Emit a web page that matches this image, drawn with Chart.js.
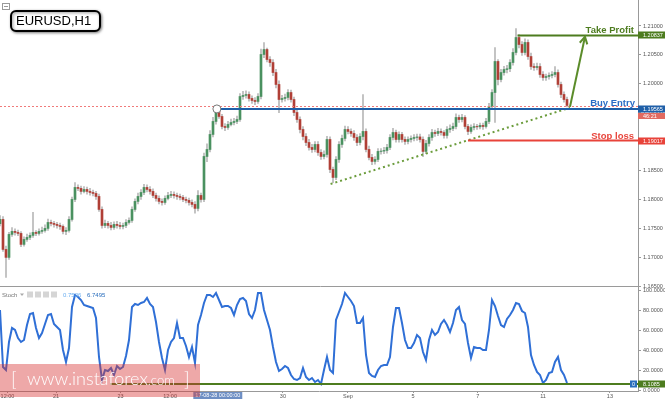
<!DOCTYPE html>
<html><head><meta charset="utf-8">
<script src="https://cdn.jsdelivr.net/npm/chart.js@4.4.1/dist/chart.umd.min.js"></script>
<style>
html,body{margin:0;padding:0;background:#fff;width:665px;height:399px;overflow:hidden;}
#pc{position:absolute;left:0;top:0;}
#sc{position:absolute;left:0;top:280px;}
</style></head><body>
<canvas id="pc" width="665" height="295"></canvas>
<canvas id="sc" width="665" height="119"></canvas>
<script>
// ---------- DATA ----------
const opens = [
1.17580,1.17652,1.17133,1.16995,1.17393,1.17445,1.17427,1.17410,1.17220,1.17306,
1.17341,1.17375,1.17427,1.17410,1.17445,1.17462,1.17497,1.17600,1.17583,1.17566,
1.17548,1.17531,1.17445,1.17462,1.17652,1.17998,1.18206,1.18189,1.18137,1.18171,
1.18137,1.18119,1.18102,1.18050,1.17825,1.17548,1.17583,1.17548,1.17514,1.17566,
1.17548,1.17531,1.17548,1.17600,1.17635,1.17825,1.17964,1.18050,1.18119,1.18206,
1.18171,1.18137,1.18067,1.18016,1.17964,1.17946,1.18016,1.18067,1.18085,1.18067,
1.18050,1.18033,1.17998,1.17981,1.17946,1.17912,1.17843,1.18067,1.17998,1.18742,
1.18863,1.19123,1.19348,1.19555,1.19434,1.19261,1.19244,1.19296,1.19330,1.19348,
1.19382,1.19780,1.19798,1.19815,1.19746,1.19711,1.19694,1.19780,1.20507,1.20593,
1.20420,1.20368,1.20195,1.19988,1.19728,1.19746,1.19763,1.19849,1.19728,1.19503,
1.19382,1.19209,1.19088,1.18984,1.18898,1.18863,1.18950,1.18811,1.18742,1.18777,
1.19036,1.18517,1.18379,1.18690,1.18950,1.19054,1.19209,1.19175,1.19140,1.19071,
1.18984,1.19088,1.19175,1.18863,1.18725,1.18656,1.18690,1.18829,1.18835,1.18846,
1.18898,1.19071,1.19157,1.19036,1.19123,1.19036,1.19002,1.19036,1.19054,1.19071,
1.19080,1.19036,1.18829,1.18967,1.19071,1.19157,1.19140,1.19175,1.19157,1.19106,
1.19209,1.19227,1.19261,1.19417,1.19382,1.19417,1.19261,1.19175,1.19244,1.19261,
1.19255,1.19279,1.19261,1.19348,1.19607,1.19849,1.20386,1.20074,1.20195,1.20247,
1.20260,1.20368,1.20542,1.20801,1.20680,1.20542,1.20715,1.20472,1.20299,1.20282,
1.20299,1.20161,1.20109,1.20126,1.20144,1.20161,1.20195,1.19988,1.19815,1.19728];
const highs = [
1.17720,1.17700,1.17190,1.17430,1.17510,1.17490,1.17470,1.17440,1.17350,1.17400,
1.17420,1.17773,1.17460,1.17490,1.17520,1.17560,1.17660,1.17640,1.17620,1.17600,
1.17590,1.17560,1.17510,1.17700,1.18040,1.18290,1.18250,1.18230,1.18220,1.18210,
1.18190,1.18160,1.18140,1.18090,1.17870,1.17640,1.17620,1.17600,1.17610,1.17620,
1.17600,1.17590,1.17650,1.17680,1.17870,1.18010,1.18110,1.18170,1.18260,1.18250,
1.18220,1.18180,1.18110,1.18060,1.18010,1.18060,1.18120,1.18140,1.18130,1.18110,
1.18090,1.18070,1.18040,1.18020,1.17990,1.17960,1.18150,1.18110,1.18800,1.18960,
1.19190,1.19420,1.19600,1.19590,1.19470,1.19310,1.19350,1.19390,1.19400,1.19440,
1.19830,1.19870,1.19880,1.19860,1.19790,1.19760,1.19830,1.20600,1.20715,1.20620,
1.20470,1.20420,1.20250,1.20050,1.19800,1.19820,1.19900,1.19890,1.19770,1.19550,
1.19430,1.19260,1.19140,1.19040,1.18950,1.19000,1.19000,1.18860,1.18840,1.19090,
1.19080,1.18560,1.18740,1.19000,1.19110,1.19270,1.19260,1.19220,1.19190,1.19120,
1.19140,1.19815,1.19220,1.18920,1.18780,1.18740,1.18880,1.18880,1.18900,1.18950,
1.19120,1.19230,1.19200,1.19170,1.19160,1.19080,1.19080,1.19100,1.19120,1.19130,
1.19130,1.19080,1.19020,1.19120,1.19210,1.19200,1.19230,1.19220,1.19190,1.19260,
1.19290,1.19320,1.19480,1.19460,1.19470,1.19450,1.19300,1.19290,1.19310,1.19300,
1.19320,1.19320,1.19400,1.19660,1.19900,1.20628,1.20420,1.20250,1.20300,1.20320,
1.20420,1.20610,1.20957,1.20850,1.20730,1.20780,1.20760,1.20530,1.20350,1.20360,
1.20350,1.20210,1.20170,1.20190,1.20210,1.20299,1.20240,1.20030,1.19860,1.19770];
const lows = [
1.17540,1.17100,1.16649,1.16960,1.17360,1.17380,1.17370,1.17180,1.17190,1.17270,
1.17300,1.17340,1.17370,1.17380,1.17410,1.17430,1.17460,1.17540,1.17520,1.17500,
1.17480,1.17400,1.17390,1.17430,1.17620,1.17960,1.18150,1.18090,1.18110,1.18090,
1.18070,1.18060,1.18000,1.17790,1.17500,1.17510,1.17500,1.17470,1.17480,1.17500,
1.17490,1.17490,1.17510,1.17570,1.17600,1.17790,1.17920,1.18000,1.18080,1.18130,
1.18090,1.18030,1.17970,1.17920,1.17900,1.17910,1.17990,1.18030,1.18020,1.18000,
1.17990,1.17960,1.17940,1.17900,1.17870,1.17760,1.17800,1.17950,1.17960,1.18650,
1.18820,1.19080,1.19300,1.19400,1.19220,1.19190,1.19210,1.19270,1.19290,1.19310,
1.19350,1.19730,1.19750,1.19700,1.19660,1.19640,1.19660,1.19740,1.20450,1.20380,
1.20300,1.20140,1.19930,1.19500,1.19680,1.19700,1.19720,1.19680,1.19450,1.19330,
1.19150,1.19030,1.18930,1.18850,1.18810,1.18820,1.18760,1.18690,1.18700,1.18730,
1.18460,1.18290,1.18340,1.18640,1.18900,1.19010,1.19130,1.19090,1.19020,1.18930,
1.18940,1.19030,1.18820,1.18680,1.18600,1.18610,1.18650,1.18780,1.18790,1.18800,
1.18860,1.19030,1.18990,1.18990,1.18990,1.18950,1.18960,1.18990,1.19010,1.19020,
1.18990,1.18740,1.18790,1.18920,1.19020,1.19090,1.19100,1.19110,1.19060,1.19060,
1.19160,1.19190,1.19220,1.19330,1.19340,1.19220,1.19120,1.19140,1.19200,1.19210,
1.19220,1.19210,1.19230,1.19310,1.19570,1.19330,1.19980,1.20030,1.20150,1.20190,
1.20210,1.20320,1.20500,1.20620,1.20490,1.20500,1.20420,1.20250,1.20230,1.20240,
1.20110,1.20060,1.20060,1.20080,1.20100,1.20120,1.19940,1.19760,1.19680,1.19600];
const closes = [
1.17652,1.17133,1.16995,1.17393,1.17445,1.17427,1.17410,1.17220,1.17306,1.17341,
1.17375,1.17427,1.17410,1.17445,1.17462,1.17497,1.17600,1.17583,1.17566,1.17548,
1.17531,1.17445,1.17462,1.17652,1.17998,1.18206,1.18189,1.18137,1.18171,1.18137,
1.18119,1.18102,1.18050,1.17825,1.17548,1.17583,1.17548,1.17514,1.17566,1.17548,
1.17531,1.17548,1.17600,1.17635,1.17825,1.17964,1.18050,1.18119,1.18206,1.18171,
1.18137,1.18067,1.18016,1.17964,1.17946,1.18016,1.18067,1.18085,1.18067,1.18050,
1.18033,1.17998,1.17981,1.17946,1.17912,1.17843,1.18067,1.17998,1.18742,1.18863,
1.19123,1.19348,1.19555,1.19434,1.19261,1.19244,1.19296,1.19330,1.19348,1.19382,
1.19780,1.19798,1.19815,1.19746,1.19711,1.19694,1.19780,1.20507,1.20593,1.20420,
1.20368,1.20195,1.19988,1.19728,1.19746,1.19763,1.19849,1.19728,1.19503,1.19382,
1.19209,1.19088,1.18984,1.18898,1.18863,1.18950,1.18811,1.18742,1.18777,1.19036,
1.18517,1.18379,1.18690,1.18950,1.19054,1.19209,1.19175,1.19140,1.19071,1.18984,
1.19088,1.19175,1.18863,1.18725,1.18656,1.18690,1.18829,1.18835,1.18846,1.18898,
1.19071,1.19157,1.19036,1.19123,1.19036,1.19002,1.19036,1.19054,1.19071,1.19080,
1.19036,1.18829,1.18967,1.19071,1.19157,1.19140,1.19175,1.19157,1.19106,1.19209,
1.19227,1.19261,1.19417,1.19382,1.19417,1.19261,1.19175,1.19244,1.19261,1.19255,
1.19279,1.19261,1.19348,1.19607,1.19849,1.20386,1.20074,1.20195,1.20247,1.20260,
1.20368,1.20542,1.20801,1.20680,1.20542,1.20715,1.20472,1.20299,1.20282,1.20299,
1.20161,1.20109,1.20126,1.20144,1.20161,1.20195,1.19988,1.19815,1.19728,1.19625];
const stochValues = [
80,23,20,48,62,60,52,48,50,65,
76,77,62,52,57,66,75,76,66,63,
60,40,28,42,83,95,93,90,85,84,
83,82,72,33,10,20,19,22,15,24,
21,23,34,50,83,86,85,87,88,92,
86,83,68,48,32,20,40,48,52,67,
52,52,44,33,43,27,65,75,87,95,
95,93,97,90,83,84,84,82,75,85,
91,92,89,76,72,80,97,97,80,70,
60,43,28,19,21,24,22,15,11,10,
12,22,13,10,12,8,10,6,20,33,
20,17,70,78,86,97,93,89,84,67,
67,72,35,17,14,13,20,24,25,25,
33,63,82,82,67,50,42,42,47,55,
52,38,30,50,60,55,58,66,70,65,
58,67,80,83,70,66,47,32,43,42,
42,40,40,60,90,84,74,65,63,71,
75,80,87,86,79,77,63,35,25,18,
15,7,10,17,18,28,33,20,15,7];
const xTickPos = [2.5,18.7,40.2,56.7,94.3,116,137.7,159.3,181,203.3];
const xTickLabels = ['12:00','21','23','12:00','30','Sep','5','7','11','13'];
const priceTicks = [1.165,1.17,1.175,1.18,1.185,1.19,1.195,1.2,1.205,1.21];
const stochTicks = [0,20,40,60,80,100];
const takeProfit = 1.20837, buyEntry = 1.19565, stopLoss = 1.19017, bidPrice = 1.19620;
const tpStartIdx = 172.5, entryStartIdx = 72.3, slStartIdx = 156;
const trendLine = [[110.2,1.18265],[190,1.19586]];
const arrowLine = [[190,1.19603],[195,1.20815]];
const stochLevel = 6, stochLevelStartIdx = 36.7, stochCurrent = '8.1085';
const crossIdx = 72.6, crossLabel = '17-08-28 00:00:00';
const countdown = '46:21';
const XMAX = 212.67;

// ---------- STYLE ----------
const UP = '#4a9160', DN = '#b03f36', WICK = '#b8b8b8';
const FONT = "'Liberation Sans', Arial, sans-serif";

function rbox(ctx, x, y, w, h, bg, txt){
  ctx.fillStyle = bg; ctx.fillRect(x, y, w, h);
  ctx.fillStyle = '#fff'; ctx.font = '5.5px ' + FONT; ctx.textBaseline = 'middle'; ctx.textAlign = 'left';
  ctx.fillText(txt, x + 5, y + h/2 + 0.5);
}

const priceAnnot = {
  id: 'priceAnnot',
  afterDraw(chart){
    const {ctx, scales:{x, y}, chartArea: ca} = chart;
    ctx.save();
    ctx.strokeStyle = '#9a9a9a'; ctx.lineWidth = 1;
    ctx.beginPath(); ctx.moveTo(0, ca.bottom + 0.5); ctx.lineTo(641, ca.bottom + 0.5); ctx.stroke();
    ctx.strokeStyle = '#f07a7a'; ctx.setLineDash([2,2]); ctx.lineWidth = 1;
    let yb = Math.round(y.getPixelForValue(bidPrice)) + 0.5;
    ctx.beginPath(); ctx.moveTo(0, yb); ctx.lineTo(ca.right, yb); ctx.stroke();
    ctx.setLineDash([]);
    ctx.strokeStyle = '#6b9c3c'; ctx.lineWidth = 2; ctx.setLineDash([2,3]);
    ctx.beginPath();
    ctx.moveTo(x.getPixelForValue(trendLine[0][0]), y.getPixelForValue(trendLine[0][1]));
    ctx.lineTo(x.getPixelForValue(trendLine[1][0]), y.getPixelForValue(trendLine[1][1]));
    ctx.stroke(); ctx.setLineDash([]);
    let yt = y.getPixelForValue(takeProfit);
    ctx.strokeStyle = '#4d7c1f'; ctx.lineWidth = 2;
    ctx.beginPath(); ctx.moveTo(x.getPixelForValue(tpStartIdx), yt); ctx.lineTo(ca.right, yt); ctx.stroke();
    let ye = y.getPixelForValue(buyEntry);
    ctx.strokeStyle = '#1f5fa8';
    ctx.beginPath(); ctx.moveTo(x.getPixelForValue(entryStartIdx), ye); ctx.lineTo(ca.right, ye); ctx.stroke();
    let ys = y.getPixelForValue(stopLoss);
    ctx.strokeStyle = '#e8433a';
    ctx.beginPath(); ctx.moveTo(x.getPixelForValue(slStartIdx), ys); ctx.lineTo(ca.right, ys); ctx.stroke();
    ctx.fillStyle = '#fff'; ctx.strokeStyle = '#777'; ctx.lineWidth = 1;
    ctx.beginPath(); ctx.arc(x.getPixelForValue(entryStartIdx), ye, 4, 0, Math.PI*2); ctx.fill(); ctx.stroke();
    const ax0 = x.getPixelForValue(arrowLine[0][0]), ay0 = y.getPixelForValue(arrowLine[0][1]);
    const ax1 = x.getPixelForValue(arrowLine[1][0]), ay1 = y.getPixelForValue(arrowLine[1][1]);
    ctx.strokeStyle = '#5b8c2a'; ctx.lineWidth = 2;
    ctx.beginPath(); ctx.moveTo(ax0, ay0); ctx.lineTo(ax1, ay1); ctx.stroke();
    const ang = Math.atan2(ay1 - ay0, ax1 - ax0);
    ctx.beginPath();
    ctx.moveTo(ax1 - 8*Math.cos(ang - 0.5), ay1 - 8*Math.sin(ang - 0.5));
    ctx.lineTo(ax1, ay1);
    ctx.lineTo(ax1 - 8*Math.cos(ang + 0.5), ay1 - 8*Math.sin(ang + 0.5));
    ctx.stroke();
    ctx.font = 'bold 9.5px ' + FONT; ctx.textAlign = 'right'; ctx.textBaseline = 'alphabetic';
    ctx.fillStyle = '#4d7c1f'; ctx.fillText('Take Profit', 634, yt - 2);
    ctx.fillStyle = '#2b6cc4'; ctx.fillText('Buy Entry', 635, ye - 3);
    ctx.fillStyle = '#e8453c'; ctx.fillText('Stop loss', 634, ys - 2);
    rbox(ctx, 638, Math.round(yt) - 3.5, 27, 7, '#4d7c1f', takeProfit.toFixed(5));
    rbox(ctx, 638, Math.round(ye) - 3.5, 27, 7, '#1f5fa8', buyEntry.toFixed(5));
    rbox(ctx, 638, Math.round(ye) + 4, 27, 6, '#e26a60', countdown);
    rbox(ctx, 638, Math.round(ys) - 3.5, 27, 7, '#e8433a', stopLoss.toFixed(5));
    ctx.save();
    ctx.shadowColor = 'rgba(0,0,0,0.45)'; ctx.shadowBlur = 3; ctx.shadowOffsetX = 1; ctx.shadowOffsetY = 1;
    ctx.fillStyle = '#fff'; ctx.strokeStyle = '#000'; ctx.lineWidth = 2;
    ctx.beginPath(); ctx.roundRect(11, 11, 89, 20, 5); ctx.fill(); ctx.stroke();
    ctx.restore();
    ctx.fillStyle = '#000'; ctx.font = '13px ' + FONT; ctx.textAlign = 'left'; ctx.textBaseline = 'middle';
    ctx.fillText('EURUSD,H1', 16, 21.5);
    ctx.strokeStyle = '#999'; ctx.lineWidth = 1;
    ctx.strokeRect(2.5, 3.5, 7, 6);
    ctx.beginPath(); ctx.moveTo(4, 6.5); ctx.lineTo(8, 6.5); ctx.stroke();
    ctx.restore();
  }
};

const stochAnnot = {
  id: 'stochAnnot',
  afterDraw(chart){
    const {ctx, scales:{x, y}, chartArea: ca} = chart;
    const OFF = 280;
    ctx.save();
    const yl = y.getPixelForValue(stochLevel);
    ctx.strokeStyle = '#4d7c1f'; ctx.lineWidth = 2;
    ctx.beginPath(); ctx.moveTo(x.getPixelForValue(stochLevelStartIdx), yl); ctx.lineTo(ca.right, yl); ctx.stroke();
    ctx.fillStyle = '#2a6ebd'; ctx.fillRect(630, yl - 3.5, 7, 7);
    ctx.fillStyle = '#fff'; ctx.font = '5.5px ' + FONT; ctx.textAlign = 'center'; ctx.textBaseline = 'middle';
    ctx.fillText('0', 633.5, yl + 0.5);
    rbox(ctx, 638, yl - 3.5, 27, 7, '#4d7c1f', stochCurrent);
    ctx.font = '6px ' + FONT; ctx.textAlign = 'left'; ctx.textBaseline = 'middle';
    ctx.fillStyle = '#777'; ctx.fillText('Stoch', 2, 295 - OFF);
    ctx.fillStyle = '#aaa'; ctx.beginPath(); ctx.moveTo(20, 293.5-OFF); ctx.lineTo(22, 296-OFF); ctx.lineTo(24, 293.5-OFF); ctx.fill();
    ctx.fillStyle = '#d5d5d5';
    for (let k = 0; k < 4; k++) ctx.fillRect(27 + k*8, 291.5 - OFF, 6, 6);
    ctx.fillStyle = '#6aaef0'; ctx.fillText('0.7526', 63, 295 - OFF);
    ctx.fillStyle = '#2a6ebd'; ctx.fillText('6.7495', 87, 295 - OFF);
    const cx = x.getPixelForValue(crossIdx);
    ctx.font = '5.5px ' + FONT;
    const tw = ctx.measureText(crossLabel).width + 4;
    ctx.fillStyle = '#6e8fc4'; ctx.fillRect(cx - tw/2, 392 - OFF, tw, 7);
    ctx.fillStyle = '#fff'; ctx.textAlign = 'center'; ctx.fillText(crossLabel, cx, 395.8 - OFF);
    ctx.fillStyle = 'rgba(214,48,48,0.42)';
    ctx.fillRect(0, 364 - OFF, 200, 33);
    ctx.fillStyle = '#fff'; ctx.textAlign = 'left'; ctx.textBaseline = 'alphabetic';
    ctx.font = '300 19px Lato, "Open Sans", sans-serif';
    ctx.fillText('[', 11, 386 - OFF);
    ctx.font = '300 18px Lato, "Open Sans", sans-serif';
    ctx.fillText('www.instaforex', 27, 385 - OFF);
    const w1 = ctx.measureText('www.instaforex').width;
    ctx.font = '300 13px Lato, "Open Sans", sans-serif';
    ctx.fillText('.com', 27 + w1, 385 - OFF);
    ctx.font = '300 19px Lato, "Open Sans", sans-serif';
    ctx.fillText(']', 184, 386 - OFF);
    ctx.restore();
  }
};

const common = {
  responsive: false, animation: false, devicePixelRatio: 1, events: [],
  plugins: { legend: { display: false }, tooltip: { enabled: false } }
};

new Chart(document.getElementById('pc'), {
  type: 'bar',
  data: { datasets: [
    { data: closes.map((c, i) => ({ x: i, y: [opens[i], c] })),
      backgroundColor: closes.map((c, i) => c >= opens[i] ? UP : DN),
      barThickness: 2, grouped: false, order: 0, borderWidth: 0 },
    { data: highs.map((h, i) => ({ x: i, y: [lows[i], h] })),
      backgroundColor: WICK, barThickness: 1, grouped: false, order: 1, borderWidth: 0 }
  ]},
  options: Object.assign({}, common, {
    layout: { padding: { left: 0, right: 0, top: 0, bottom: 9 } },
    scales: {
      x: { type: 'linear', display: false, min: 0, max: XMAX, offset: false },
      y: { position: 'right', min: 1.165, max: 1.2145,
           afterBuildTicks(s){ s.ticks = priceTicks.map(v => ({ value: v })); },
           afterFit(s){ s.width = 27; s.paddingTop = 0; s.paddingBottom = 0; },
           ticks: { font: { size: 5.5, family: FONT }, color: '#555', padding: 2, callback: v => v.toFixed(5) },
           grid: { drawOnChartArea: false, tickLength: 3, color: '#999' },
           border: { color: '#999' } }
    }
  }),
  plugins: [priceAnnot]
});

new Chart(document.getElementById('sc'), {
  type: 'line',
  data: { datasets: [
    { data: stochValues.map((v, i) => ({ x: i, y: v })), borderColor: '#2f6fd6', borderWidth: 2,
      pointRadius: 0, tension: 0, fill: false }
  ]},
  options: Object.assign({}, common, {
    layout: { padding: { left: 0, right: 0, top: 7, bottom: 0 } },
    scales: {
      x: { type: 'linear', min: 0, max: XMAX, offset: false,
           afterBuildTicks(s){ s.ticks = xTickPos.map(v => ({ value: v })); },
           afterFit(s){ s.height = 8; s.paddingLeft = 0; s.paddingRight = 0; },
           ticks: { autoSkip: false, maxRotation: 0, font: { size: 5.5, family: FONT }, color: '#555', padding: 0,
                    callback: (v, i) => xTickLabels[i] },
           grid: { drawOnChartArea: false, tickLength: 2, color: '#999' },
           border: { color: '#999' } },
      y: { position: 'right', min: -1, max: 103,
           afterBuildTicks(s){ s.ticks = stochTicks.map(v => ({ value: v })); },
           afterFit(s){ s.width = 27; s.paddingTop = 0; s.paddingBottom = 0; },
           ticks: { font: { size: 5.5, family: FONT }, color: '#555', padding: 2, callback: v => v.toFixed(4) },
           grid: { drawOnChartArea: false, tickLength: 3, color: '#999' },
           border: { color: '#999' } }
    }
  }),
  plugins: [stochAnnot]
});
</script>
</body></html>
